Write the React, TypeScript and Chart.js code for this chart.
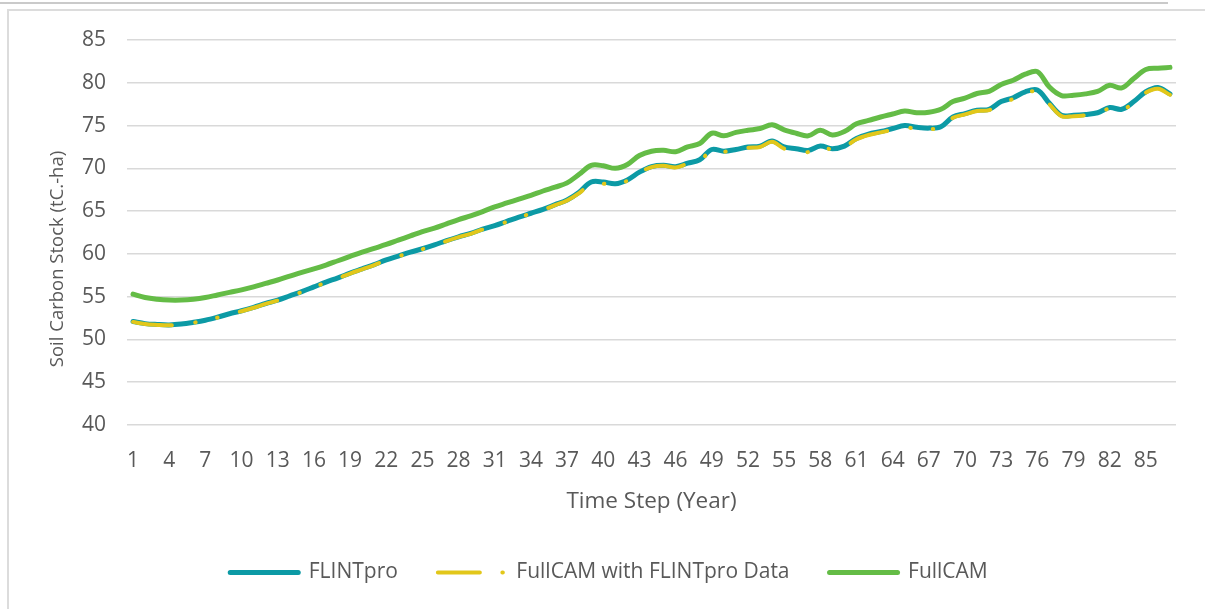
import React, { useEffect, useRef } from "react";
import { Chart, registerables } from "chart.js";

Chart.register(...registerables);

const years = [
  "1", "2", "3", "4", "5", "6", "7", "8", "9", "10",
  "11", "12", "13", "14", "15", "16", "17", "18", "19", "20",
  "21", "22", "23", "24", "25", "26", "27", "28", "29", "30",
  "31", "32", "33", "34", "35", "36", "37", "38", "39", "40",
  "41", "42", "43", "44", "45", "46", "47", "48", "49", "50",
  "51", "52", "53", "54", "55", "56", "57", "58", "59", "60",
  "61", "62", "63", "64", "65", "66", "67", "68", "69", "70",
  "71", "72", "73", "74", "75", "76", "77", "78", "79", "80",
  "81", "82", "83", "84", "85", "86", "87",
];

const flintpro = [
  52.1, 51.85, 51.75, 51.7, 51.8, 52.0, 52.25, 52.6, 53.0, 53.35,
  53.75, 54.2, 54.6, 55.1, 55.6, 56.15, 56.7, 57.2, 57.75, 58.25,
  58.75, 59.3, 59.75, 60.2, 60.6, 61.05, 61.55, 62.0, 62.4, 62.9,
  63.3, 63.8, 64.3, 64.75, 65.2, 65.75, 66.3, 67.2, 68.4, 68.4,
  68.2, 68.65, 69.55, 70.2, 70.35, 70.2, 70.6, 71.0, 72.2, 72.0,
  72.2, 72.5, 72.6, 73.2, 72.5, 72.3, 72.1, 72.6, 72.3, 72.6,
  73.5, 74.0, 74.3, 74.65, 75.0, 74.8, 74.7, 74.85, 76.0, 76.4,
  76.8, 76.9, 77.8, 78.25, 78.95, 79.15, 77.6, 76.2, 76.2, 76.3,
  76.5, 77.1, 76.9, 77.8, 78.95, 79.45, 78.7,
];

const fullcamFlintproData = [
  52.05, 51.8, 51.7, 51.65, 51.75, 51.95, 52.2, 52.55, 52.95, 53.3,
  53.7, 54.15, 54.55, 55.05, 55.55, 56.1, 56.65, 57.15, 57.7, 58.2,
  58.7, 59.25, 59.7, 60.15, 60.55, 61.0, 61.5, 61.95, 62.35, 62.85,
  63.25, 63.75, 64.25, 64.7, 65.15, 65.7, 66.25, 67.1, 68.2, 68.2,
  68.1, 68.55, 69.5, 70.15, 70.3, 70.1, 70.55, 70.9, 72.1, 71.95,
  72.1, 72.4, 72.5, 73.1, 72.3, 72.1, 71.9, 72.5, 72.2, 72.5,
  73.4, 73.9, 74.2, 74.5, 74.8, 74.6, 74.6, 74.7, 75.9, 76.3,
  76.7, 76.8, 77.7, 78.1, 78.8, 78.95, 77.5, 76.1, 76.1, 76.2,
  76.4, 77.0, 76.8, 77.7, 78.85, 79.3, 78.6,
];

const fullcam = [
  55.3, 54.9, 54.7, 54.6, 54.6, 54.7, 54.9, 55.2, 55.5, 55.8,
  56.15, 56.55, 56.95, 57.4, 57.85, 58.25, 58.7, 59.2, 59.7, 60.2,
  60.65, 61.1, 61.6, 62.1, 62.6, 63.0, 63.5, 64.0, 64.45, 64.95,
  65.5, 65.95, 66.4, 66.85, 67.35, 67.8, 68.3, 69.3, 70.35, 70.3,
  70.0, 70.45, 71.5, 72.0, 72.1, 71.95, 72.5, 72.9, 74.1, 73.8,
  74.2, 74.45, 74.65, 75.1, 74.5, 74.1, 73.8, 74.45, 73.9, 74.3,
  75.2, 75.6, 76.0, 76.35, 76.7, 76.5, 76.55, 76.9, 77.8, 78.2,
  78.75, 79.0, 79.8, 80.3, 81.0, 81.3, 79.5, 78.5, 78.55, 78.7,
  79.0, 79.7, 79.4, 80.5, 81.55, 81.7, 81.8,
];

const seriesNames = ["FLINTpro", "FullCAM with FLINTpro Data", "FullCAM"];
const xTitle = "Time Step (Year)";
const yTitle = "Soil Carbon Stock (tC.-ha)";
const yMin = 40;
const yMax = 85;
const yStep = 5;

const TEAL = "#0C9AA5";
const YELLOW = "#E2C71A";
const GREEN = "#64BC46";
const TEXT = "#595959";
const FONT = "'Open Sans', sans-serif";

const yTitlePlugin = {
  id: "yTitleCustom",
  afterDraw(chart: any) {
    const ctx = chart.ctx;
    ctx.save();
    ctx.translate(58, 259);
    ctx.rotate(-Math.PI / 2);
    ctx.font = `18.5px ${FONT}`;
    ctx.fillStyle = TEXT;
    ctx.textAlign = "center";
    ctx.textBaseline = "middle";
    ctx.fillText(yTitle, 0, 0);
    ctx.restore();
  },
};

export default function App() {
  const canvasRef = useRef<HTMLCanvasElement | null>(null);

  useEffect(() => {
    const canvas = canvasRef.current;
    if (!canvas) return;
    const chart = new Chart(canvas, {
      type: "line",
      data: {
        labels: years,
        datasets: [
          {
            label: seriesNames[0],
            data: flintpro,
            borderColor: TEAL,
            backgroundColor: TEAL,
            borderWidth: 5,
            pointRadius: 0,
            tension: 0.35,
            borderCapStyle: "round",
            borderJoinStyle: "round",
            order: 1,
          },
          {
            label: seriesNames[1],
            data: fullcamFlintproData,
            borderColor: YELLOW,
            backgroundColor: YELLOW,
            borderWidth: 4,
            borderDash: [39, 23.5, 0.5, 22, 0.5, 23],
            pointRadius: 0,
            tension: 0.35,
            borderCapStyle: "round",
            borderJoinStyle: "round",
            order: 0,
          },
          {
            label: seriesNames[2],
            data: fullcam,
            borderColor: GREEN,
            backgroundColor: GREEN,
            borderWidth: 5,
            pointRadius: 0,
            tension: 0.35,
            borderCapStyle: "round",
            borderJoinStyle: "round",
            order: 2,
          },
        ],
      },
      options: {
        responsive: false,
        animation: false,
        devicePixelRatio: 1,
        layout: { padding: { left: 42, right: 29, top: 40, bottom: 16 } },
        scales: {
          x: {
            type: "category",
            offset: true,
            grid: { display: false, drawTicks: false },
            border: { display: false },
            ticks: {
              autoSkip: false,
              maxRotation: 0,
              minRotation: 0,
              padding: 23,
              color: TEXT,
              font: { family: FONT, size: 21 },
              callback: (_v: any, i: number) => (i % 3 === 0 ? years[i] : ""),
            },
            title: {
              display: true,
              text: xTitle,
              color: TEXT,
              font: { family: FONT, size: 22.5 },
              padding: { top: 0, bottom: 7 },
            },
            afterFit: (s: any) => {
              s.height = 97;
            },
          },
          y: {
            min: yMin,
            max: yMax,
            grid: { color: "#D9D9D9", lineWidth: 1.5, drawTicks: false },
            border: { display: false },
            ticks: {
              stepSize: yStep,
              padding: 21,
              color: TEXT,
              font: { family: FONT, size: 21 },
            },
            title: { display: false },
            afterFit: (s: any) => {
              s.width = 85;
            },
          },
        },
        plugins: {
          tooltip: { enabled: false },
          legend: {
            position: "bottom",
            labels: {
              color: TEXT,
              font: { family: FONT, size: 21 },
              usePointStyle: true,
              pointStyle: "line",
              pointStyleWidth: 68,
              padding: 40,
              generateLabels: (ch: any) => {
                const items = Chart.defaults.plugins.legend.labels.generateLabels(ch);
                items.sort((a: any, b: any) => a.datasetIndex - b.datasetIndex);
                return items.map((it: any) => {
                  const idx = it.datasetIndex;
                  return {
                    ...it,
                    pointStyle: "line",
                    lineWidth: idx === 1 ? 4 : 5,
                    lineCap: "round",
                    lineDash: idx === 1 ? [42, 22.5, 0.5, 200] : [],
                    lineDashOffset: 0,
                  };
                });
              },
            },
          },
        },
      },
      plugins: [yTitlePlugin],
    } as any);
    return () => chart.destroy();
  }, []);

  return (
    <div style={{ position: "fixed", left: 0, top: 0, width: 1205, height: 609, background: "#fff", overflow: "hidden" }}>
      <div style={{ position: "absolute", left: 0, top: 2, width: 1168, height: 2, background: "#CACACA" }} />
      <div
        style={{
          position: "absolute",
          left: 7,
          top: 9,
          width: 1300,
          height: 700,
          borderLeft: "2px solid #DCDCDC",
          borderTop: "2px solid #DCDCDC",
        }}
      />
      <canvas ref={canvasRef} width={1205} height={609} style={{ position: "absolute", left: 0, top: 0, width: 1205, height: 609 }} />
    </div>
  );
}
